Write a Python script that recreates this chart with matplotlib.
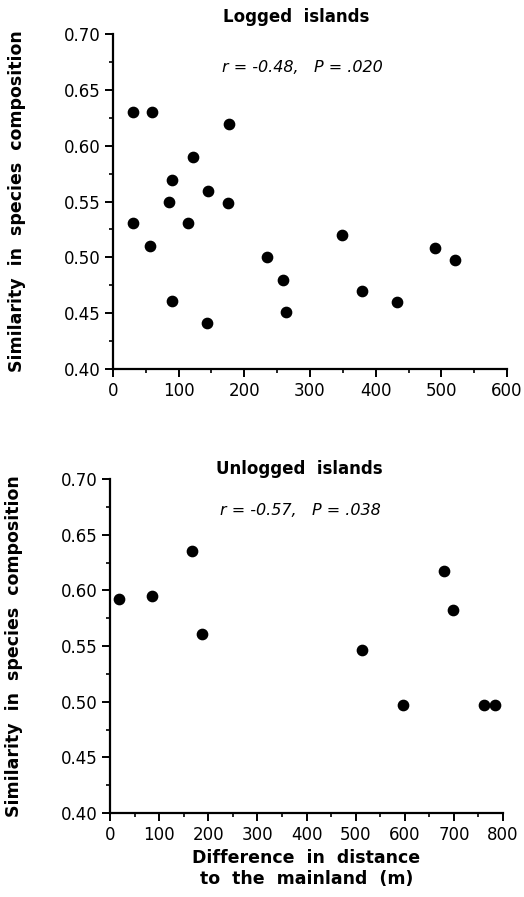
import matplotlib
matplotlib.use('Agg')

import matplotlib.pyplot as plt
from matplotlib.ticker import MultipleLocator, FormatStrFormatter

# Logged islands
logged_dist = [31, 60, 177, 122, 90, 144, 86, 175, 31, 114, 56, 349, 234,
               259, 491, 521, 90, 264, 379, 433, 143]
logged_sim = [0.630, 0.630, 0.619, 0.590, 0.569, 0.559, 0.550, 0.549, 0.531,
              0.531, 0.510, 0.520, 0.500, 0.480, 0.508, 0.498, 0.461, 0.451,
              0.470, 0.460, 0.441]

# Unlogged islands
unlogged_dist = [19, 86, 167, 188, 513, 597, 679, 699, 761, 783]
unlogged_sim = [0.592, 0.595, 0.635, 0.561, 0.546, 0.497, 0.617, 0.582,
                0.497, 0.497]

plt.rcParams['font.family'] = ['DejaVu Sans']

fig = plt.figure(figsize=(5.24, 8.97), dpi=100)

def style_axes(ax, xmax):
  ax.spines['top'].set_visible(False)
  ax.spines['right'].set_visible(False)
  ax.spines['left'].set_linewidth(1.6)
  ax.spines['bottom'].set_linewidth(1.6)
  ax.set_xlim(0, xmax)
  ax.set_ylim(0.40, 0.70)
  ax.xaxis.set_major_locator(MultipleLocator(100))
  ax.xaxis.set_minor_locator(MultipleLocator(50))
  ax.yaxis.set_major_locator(MultipleLocator(0.05))
  ax.yaxis.set_minor_locator(MultipleLocator(0.025))
  ax.yaxis.set_major_formatter(FormatStrFormatter('%.2f'))
  ax.tick_params(which='major', direction='out', length=6, width=1.4,
                 labelsize=12, pad=3)
  ax.tick_params(which='minor', direction='out', length=3, width=1.2)
  ax.set_ylabel('Similarity  in  species  composition', fontsize=12.5,
                fontweight='bold', labelpad=27)

# Top panel
ax1 = fig.add_axes([0.2156, 0.5886, 0.752, 0.3735])
ax1.scatter(logged_dist, logged_sim, s=55, color='black', clip_on=False,
            zorder=3)
style_axes(ax1, 600)
fig.text(0.565, 0.981, 'Logged  islands', ha='center', va='center',
         fontsize=12, fontweight='bold')
fig.text(0.578, 0.925, 'r = -0.48,   P = .020', ha='center', va='center',
         fontsize=11.5, style='italic')

# Bottom panel
ax2 = fig.add_axes([0.21, 0.0936, 0.75, 0.3724])
ax2.scatter(unlogged_dist, unlogged_sim, s=55, color='black', clip_on=False,
            zorder=3)
style_axes(ax2, 800)
fig.text(0.571, 0.477, 'Unlogged  islands', ha='center', va='center',
         fontsize=12, fontweight='bold')
fig.text(0.573, 0.431, 'r = -0.57,   P = .038', ha='center', va='center',
         fontsize=11.5, style='italic')
ax2.set_xlabel('Difference  in  distance\nto  the  mainland  (m)',
               fontsize=12.5, fontweight='bold', labelpad=4, linespacing=1.2)

plt.savefig('out.png', dpi=100)
